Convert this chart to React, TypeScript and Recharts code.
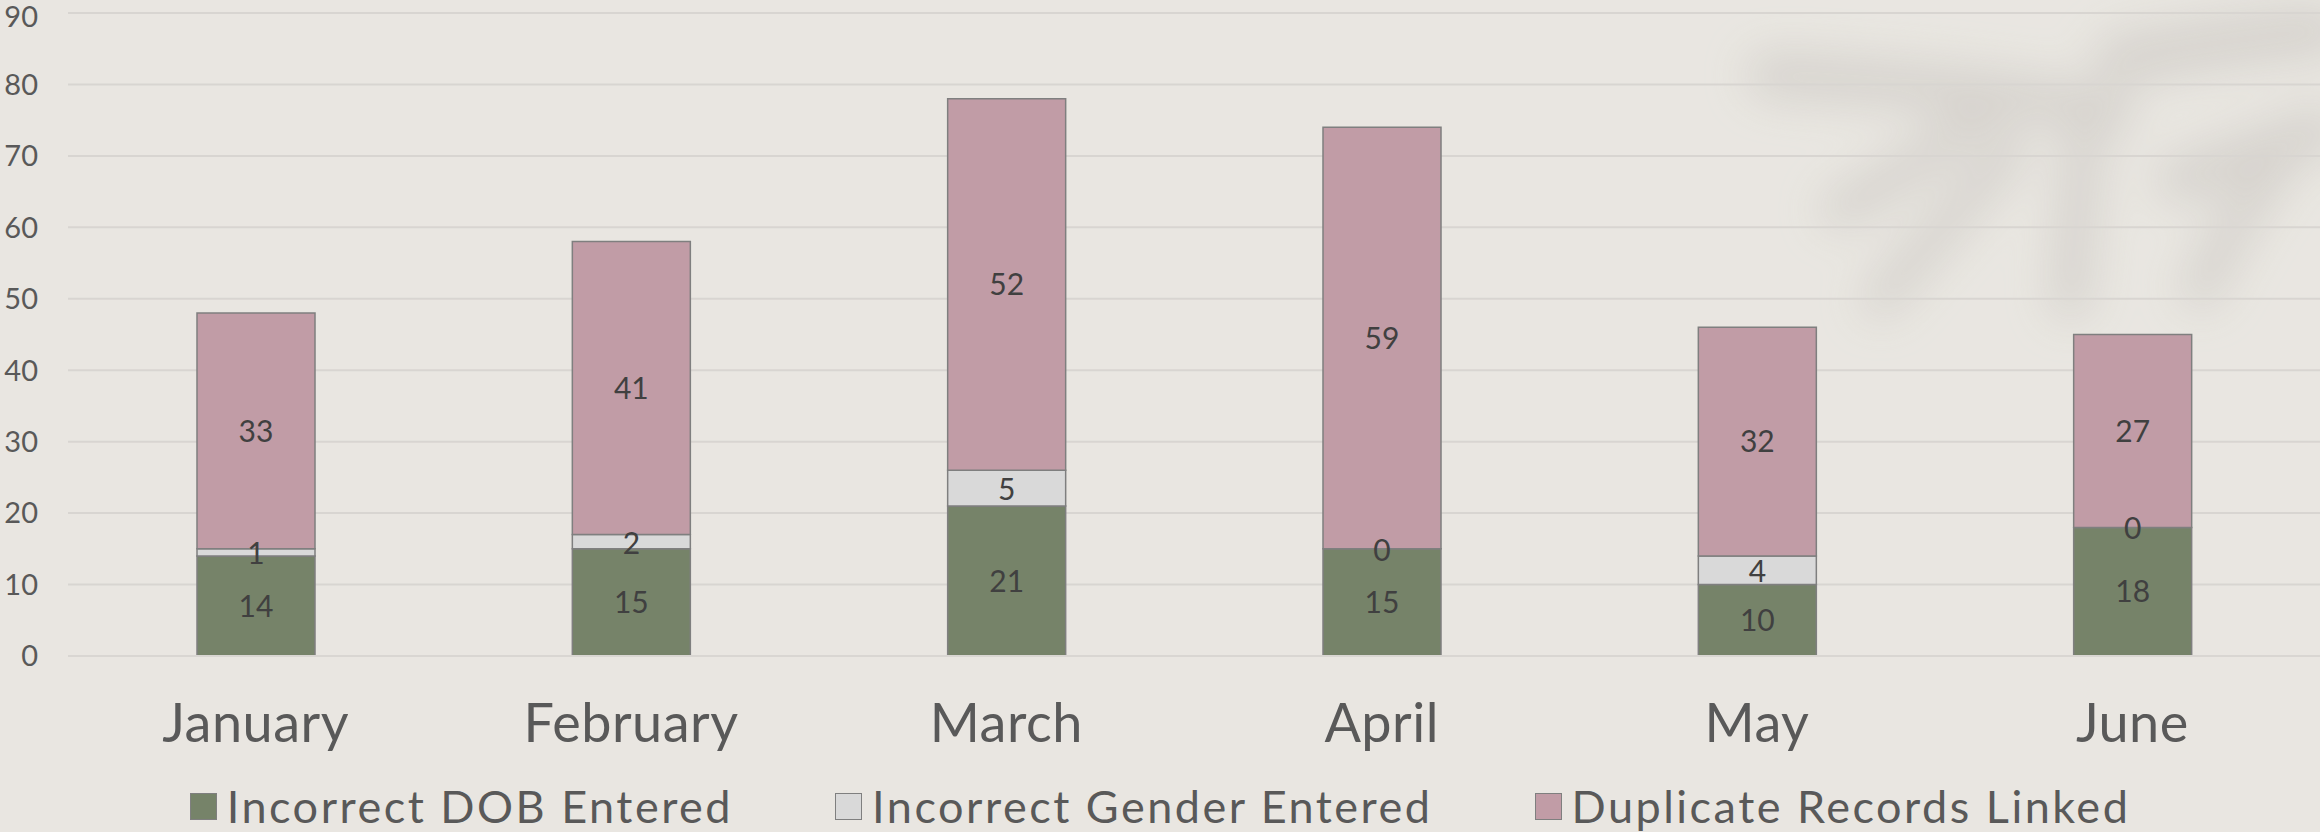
import React from 'react';
import { BarChart, Bar, XAxis, YAxis, CartesianGrid, Legend, LabelList } from 'recharts';

const months = ['January', 'February', 'March', 'April', 'May', 'June'];
const dobErrors = [14, 15, 21, 15, 10, 18];
const genderErrors = [1, 2, 5, 0, 4, 0];
const duplicateLinks = [33, 41, 52, 59, 32, 27];
const yTicks = [0, 10, 20, 30, 40, 50, 60, 70, 80, 90];

const seriesOrder = ['dob', 'gender', 'dup'];
const seriesNames: Record<string, string> = {
  dob: 'Incorrect DOB Entered',
  gender: 'Incorrect Gender Entered',
  dup: 'Duplicate Records Linked',
};
const colors: Record<string, string> = { dob: '#768369', gender: '#D9D9D9', dup: '#C19CA6' };

const data = months.map((m, i) => ({
  month: m,
  dob: dobErrors[i],
  gender: genderErrors[i],
  dup: duplicateLinks[i],
}));
const edgeTicks = Array.from({ length: months.length + 1 }, (_, i) => i);

const FONT = "Lato, 'Open Sans', sans-serif";
const W = 2320;
const H = 832;
const LABEL_COLOR = '#404040';

const renderLegend = () => (
  <div style={{ display: 'flex', justifyContent: 'center', alignItems: 'center', height: 76, paddingTop: 24, boxSizing: 'border-box', fontFamily: FONT }}>
    {seriesOrder.map((k, i) => (
      <div key={k} style={{ display: 'flex', alignItems: 'center', marginLeft: i === 0 ? 0 : 102 }}>
        <div style={{ width: 25, height: 25, background: colors[k], border: '1.5px solid #7f7f7f', marginRight: 10 }} />
        <span style={{ fontSize: 45, color: '#595959', lineHeight: 1, fontWeight: 400, letterSpacing: 2.5 }}>{seriesNames[k]}</span>
      </div>
    ))}
  </div>
);

// Gender label placed at the centre of the gender segment, derived from the DOB segment's scale
const genderLabel = (props: any) => {
  const { x, y, width, height, index } = props;
  const perUnit = height / dobErrors[index];
  const g = genderErrors[index];
  const cy = y - (g * perUnit) / 2;
  return (
    <text x={x + width / 2} y={cy} textAnchor="middle" dominantBaseline="central" fill={LABEL_COLOR} fontSize={30} fontFamily={FONT}>
      {g}
    </text>
  );
};

const Shadow = () => (
  <svg width={W} height={H} style={{ position: 'absolute', left: 0, top: 0 }}>
    <defs>
      <filter id="blur" x="-50%" y="-50%" width="200%" height="200%">
        <feGaussianBlur stdDeviation="22" />
      </filter>
    </defs>
    <g filter="url(#blur)" stroke="#d5d1cc" strokeLinecap="round" fill="none" opacity={0.9}>
      <path d="M1770 75 Q1950 85 2110 110" strokeWidth={46} />
      <path d="M1840 210 Q1910 170 1990 110" strokeWidth={38} />
      <path d="M1880 300 Q1950 220 2010 150" strokeWidth={36} />
      <path d="M2070 300 Q2075 220 2085 140" strokeWidth={40} />
      <path d="M2200 290 Q2240 210 2280 160" strokeWidth={38} />
      <path d="M2120 60 Q2220 40 2320 30" strokeWidth={52} />
      <path d="M2180 180 Q2260 150 2320 130" strokeWidth={46} />
    </g>
  </svg>
);

export default function App() {
  return (
    <div style={{ position: 'absolute', left: 0, top: 0, width: W, height: H, background: '#E9E6E1', overflow: 'hidden' }}>
      <Shadow />
      <div style={{ position: 'absolute', left: 0, top: 0 }}>
        <BarChart width={W} height={H} data={data} margin={{ top: 13, right: 0, left: 0, bottom: 0 }}>
          <CartesianGrid vertical={false} stroke="#D8D5D1" strokeWidth={2} />
          <XAxis xAxisId="edges" type="number" domain={[0, months.length]} ticks={edgeTicks} height={0}
            axisLine={false} tick={false} tickSize={17} tickLine={{ stroke: '#D9D6D2', strokeWidth: 2 }} />
          <XAxis xAxisId="cat" dataKey="month" height={100} axisLine={{ stroke: '#D9D6D2', strokeWidth: 2 }}
            tickLine={false} tickSize={0} tickMargin={48}
            tick={{ fontSize: 54, fill: '#595959', fontFamily: FONT, letterSpacing: 0.5 }} interval={0} />
          <YAxis width={68} domain={[0, 90]} ticks={yTicks} axisLine={false} tickLine={false} tickSize={0} tickMargin={30}
            tick={{ fontSize: 29, fill: '#595959', fontFamily: FONT }} />
          <Legend verticalAlign="bottom" height={76} content={renderLegend} />
          <Bar xAxisId="cat" dataKey="dob" name={seriesNames.dob} stackId="a" fill={colors.dob} stroke="#7f7f7f" strokeWidth={1.5} barSize={118} isAnimationActive={false}>
            <LabelList dataKey="dob" position="center" fill={LABEL_COLOR} fontSize={30} fontFamily={FONT} />
            <LabelList dataKey="gender" content={genderLabel} />
          </Bar>
          <Bar xAxisId="cat" dataKey="gender" name={seriesNames.gender} stackId="a" fill={colors.gender} stroke="#7f7f7f" strokeWidth={1.5} barSize={118} isAnimationActive={false} />
          <Bar xAxisId="cat" dataKey="dup" name={seriesNames.dup} stackId="a" fill={colors.dup} stroke="#7f7f7f" strokeWidth={1.5} barSize={118} isAnimationActive={false}>
            <LabelList dataKey="dup" position="center" fill={LABEL_COLOR} fontSize={30} fontFamily={FONT} />
          </Bar>
        </BarChart>
      </div>
    </div>
  );
}
